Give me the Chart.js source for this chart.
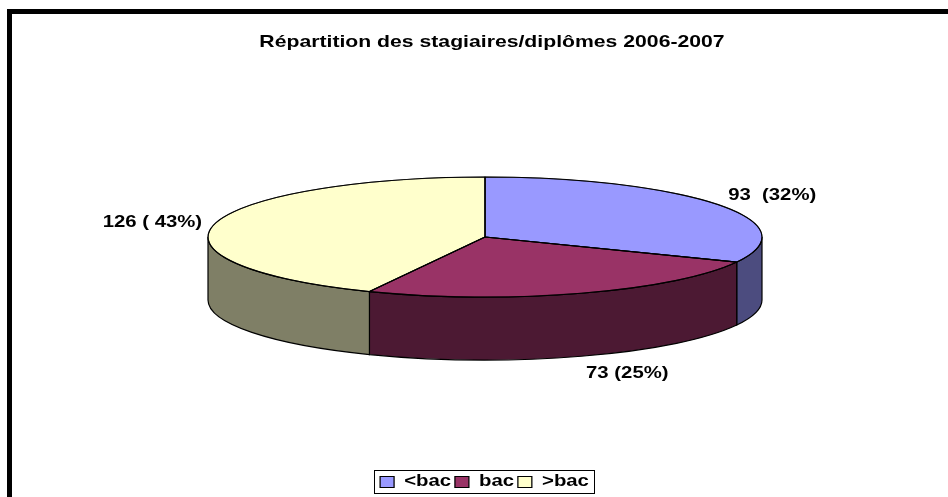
<!DOCTYPE html>
<html><head><meta charset="utf-8">
<style>html,body{margin:0;padding:0;background:#fff}canvas{display:block}</style>
<script src="https://cdn.jsdelivr.net/npm/chart.js@4"></script>
</head><body><canvas id="c" width="948" height="497"></canvas>
<script>
const categories = ['<bac', 'bac', '>bac'];
const values = [93, 73, 126];
const valueLabels = ['93  (32%)', '73 (25%)', '126 ( 43%)'];
const topColors = ['#9999FF', '#993366', '#FFFFCC'];
const wallColors = ['#4C4C7F', '#4C1933', '#7F7F66'];
const titleText = 'Répartition des stagiaires/diplômes 2006-2007';

const FONT = '"Liberation Sans", Arial, sans-serif';
const CENTER_Y = 237, SQUASH = 60 / 277, DEPTH = 63;
const TEXT_STRETCH = 1.27;     // the reference's text is horizontally stretched
const TITLE_X = 492, LEGEND_X = 484.5, LEGEND_DY = 6;
// label offset from the rim point at each slice's middle angle
const labelOffsets = [[54, -9], [46, 80], [-62, -2]];

function wrapDraw(box, centerX, dy) {
  const orig = box.draw;
  box.draw = function (...args) {
    const ctx = this.ctx, mid = (this.left + this.right) / 2;
    ctx.save();
    ctx.translate(centerX, dy);
    ctx.scale(TEXT_STRETCH, 1);
    ctx.translate(-mid, 0);
    orig.apply(this, args);
    ctx.restore();
  };
}

const pie3d = {
  id: 'pie3d',
  afterLayout(chart) {
    if (chart.$wrapped) return;
    chart.$wrapped = true;
    wrapDraw(chart.titleBlock, TITLE_X, 0);
    wrapDraw(chart.legend, LEGEND_X, LEGEND_DY);
  },
  beforeDraw(chart) {
    const ctx = chart.ctx;
    ctx.save();
    ctx.fillStyle = '#000';
    ctx.fillRect(7, 9, 941, 5);
    ctx.fillRect(7, 9, 5, 488);
    ctx.restore();
  },
  beforeDatasetsDraw(chart) {
    const ctx = chart.ctx, arcs = chart.getDatasetMeta(0).data;
    ctx.save();
    ctx.lineWidth = 1.2; ctx.strokeStyle = '#000';
    arcs.forEach((arc, i) => {
      const {x, startAngle, endAngle, outerRadius: r} = arc.getProps(['x','startAngle','endAngle','outerRadius']);
      const a = Math.max(startAngle, 0), b = Math.min(endAngle, Math.PI);
      if (b <= a) return;
      const ry = r * SQUASH;
      ctx.beginPath();
      ctx.ellipse(x, CENTER_Y, r, ry, 0, a, b);
      ctx.ellipse(x, CENTER_Y + DEPTH, r, ry, 0, b, a, true);
      ctx.closePath();
      ctx.fillStyle = wallColors[i];
      ctx.fill(); ctx.stroke();
    });
    ctx.restore();
    const c = arcs[0].getProps(['x','y']);
    ctx.save();
    ctx.translate(c.x, CENTER_Y); ctx.scale(1, SQUASH); ctx.translate(-c.x, -c.y);
  },
  afterDatasetsDraw(chart) {
    const ctx = chart.ctx, arcs = chart.getDatasetMeta(0).data;
    ctx.restore();
    ctx.save();
    ctx.lineWidth = 1.2; ctx.strokeStyle = '#000'; ctx.lineJoin = 'round';
    arcs.forEach(arc => {
      const {x, startAngle, endAngle, outerRadius: r} = arc.getProps(['x','startAngle','endAngle','outerRadius']);
      ctx.beginPath();
      ctx.moveTo(x, CENTER_Y);
      ctx.ellipse(x, CENTER_Y, r, r * SQUASH, 0, startAngle, endAngle);
      ctx.closePath();
      ctx.stroke();
    });
    ctx.font = 'bold 16px ' + FONT;
    ctx.fillStyle = '#000'; ctx.textAlign = 'center'; ctx.textBaseline = 'middle';
    arcs.forEach((arc, i) => {
      const {x, startAngle, endAngle, outerRadius: r} = arc.getProps(['x','startAngle','endAngle','outerRadius']);
      const m = (startAngle + endAngle) / 2;
      ctx.save();
      ctx.translate(x + r * Math.cos(m) + labelOffsets[i][0],
                    CENTER_Y + r * SQUASH * Math.sin(m) + labelOffsets[i][1]);
      ctx.scale(TEXT_STRETCH, 1);
      ctx.fillText(valueLabels[i], 0, 0);
      ctx.restore();
    });
    ctx.restore();
  },
  afterDraw(chart) {
    const lg = chart.legend, boxes = lg.legendHitBoxes, ctx = chart.ctx;
    const mid = (lg.left + lg.right) / 2;
    const sx = v => LEGEND_X + (v - mid) * TEXT_STRETCH;
    const first = boxes[0], last = boxes[boxes.length - 1];
    ctx.save();
    ctx.lineWidth = 1; ctx.strokeStyle = '#000';
    const l = Math.round(sx(first.left)) - 5.5, r = Math.round(sx(last.left + last.width)) + 5.5;
    ctx.strokeRect(l, 470.5, r - l, 23);
    ctx.restore();
  }
};

new Chart(document.getElementById('c'), {
  type: 'pie',
  plugins: [pie3d],
  data: {
    labels: categories,
    datasets: [{
      data: values,
      backgroundColor: topColors,
      borderColor: '#000',
      borderWidth: 1,
      clip: false
    }]
  },
  options: {
    responsive: false,
    animation: false,
    radius: 277,
    layout: {padding: {left: 22, bottom: 3}},
    plugins: {
      tooltip: {enabled: false},
      title: {
        display: true, text: titleText, color: '#000',
        font: {family: FONT, size: 16.7, weight: 'bold'},
        padding: {top: 32, bottom: 0}
      },
      legend: {
        position: 'bottom',
        labels: {
          color: '#000', boxWidth: 11, boxHeight: 11, padding: 3,
          font: {family: FONT, size: 16, weight: 'bold'}
        }
      }
    }
  }
});
</script></body></html>
